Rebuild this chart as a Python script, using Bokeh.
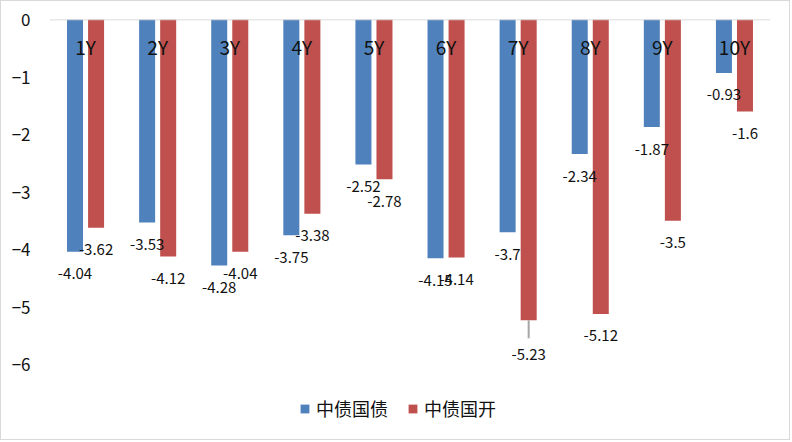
from bokeh.plotting import figure
from bokeh.models import ColumnDataSource, Span, Legend, LegendItem, FixedTicker
from bokeh.transform import dodge
from bokeh.core.properties import value
from bokeh.embed import file_html
from bokeh.resources import INLINE

# ---- data ----
categories = ["1Y", "2Y", "3Y", "4Y", "5Y", "6Y", "7Y", "8Y", "9Y", "10Y"]
govt_bond = [-4.04, -3.53, -4.28, -3.75, -2.52, -4.15, -3.7, -2.34, -1.87, -0.93]
cdb_bond = [-3.62, -4.12, -4.04, -3.38, -2.78, -4.14, -5.23, -5.12, -3.5, -1.6]
series_names = ["中债国债", "中债国开"]
y_ticks = [0, -1, -2, -3, -4, -5, -6]
y_axis_min = -6

# ---- style / layout ----
FONT = "Noto Sans CJK SC"
BLUE = "#4F81BD"
RED = "#C0504D"
TEXT = "#111111"
W, H = 790, 440
BL, BR, BT = 48, 21, 18
AXIS_H = 345                      # pixel height of the 0..-6 span
PPU = AXIS_H / abs(y_axis_min)    # pixels per unit
FRAME_H = H - BT - 10             # frame extends under the legend
y_frame_min = -FRAME_H / PPU
BAR_W = 0.222
OFF = 0.146
LABEL_DY = 22
# extra pixel offsets of the data labels (label moved with leader line)
govt_extra = [0, 0, 0, 0, 0, 0, 0, 0, 0, 0]
cdb_extra = [0, 0, 0, 0, 0, 0, 12, 0, 0, 0]

src = ColumnDataSource(dict(
    cat=categories,
    govt=govt_bond,
    cdb=cdb_bond,
    govt_lbl=[str(v) for v in govt_bond],
    cdb_lbl=[str(v) for v in cdb_bond],
    govt_dy=[LABEL_DY + e for e in govt_extra],
    cdb_dy=[LABEL_DY + e for e in cdb_extra],
    zero=[0] * len(categories),
))

p = figure(x_range=categories, y_range=(y_frame_min, 0), width=W, height=H,
           output_backend="svg", toolbar_location=None,
           min_border_left=BL, min_border_right=BR,
           min_border_top=BT, min_border_bottom=10)
p.styles = {"border": "1px solid #d9d9d9"}

p.xaxis.visible = False
p.xgrid.visible = False
p.ygrid.visible = False
p.outline_line_color = None
p.background_fill_color = "white"
p.border_fill_color = "white"

ya = p.yaxis[0]
ya.ticker = FixedTicker(ticks=y_ticks)
ya.axis_line_color = None
ya.major_tick_line_color = None
ya.minor_tick_line_color = None
ya.major_tick_out = 0
ya.major_label_standoff = 19
ya.major_label_text_font = FONT
ya.major_label_text_font_size = "17px"
ya.major_label_text_color = TEXT

r_g = p.vbar(x=dodge("cat", -OFF, range=p.x_range), top="govt", bottom=0,
             width=BAR_W, source=src, fill_color=BLUE, line_color=None)
r_c = p.vbar(x=dodge("cat", OFF, range=p.x_range), top="cdb", bottom=0,
             width=BAR_W, source=src, fill_color=RED, line_color=None)

p.add_layout(Span(location=0, dimension="width", line_color="#d0d0d0",
                  line_width=1.5))

# category labels just below the zero line
p.text(x="cat", y="zero", text="cat", source=src, y_offset=27,
       text_align="center", text_baseline="middle",
       text_font=value(FONT), text_font_size="19px", text_color=TEXT)

# data labels
p.text(x=dodge("cat", -OFF, range=p.x_range), y="govt", text="govt_lbl",
       source=src, y_offset="govt_dy", text_align="center",
       text_baseline="middle", text_font=value(FONT),
       text_font_size="15px", text_color=TEXT)
p.text(x=dodge("cat", OFF, range=p.x_range), y="cdb", text="cdb_lbl",
       source=src, y_offset="cdb_dy", text_align="center",
       text_baseline="middle", text_font=value(FONT),
       text_font_size="15px", text_color=TEXT)

# leader lines for moved labels
lead_cat = [c for c, e in zip(categories, cdb_extra) if e > 0]
lead_y0 = [v for v, e in zip(cdb_bond, cdb_extra) if e > 0]
lead_y1 = [v - (LABEL_DY + e - 16) / PPU for v, e in zip(cdb_bond, cdb_extra) if e > 0]
lsrc = ColumnDataSource(dict(cat=lead_cat, y0=lead_y0, y1=lead_y1))
p.segment(x0=dodge("cat", OFF, range=p.x_range), y0="y0",
          x1=dodge("cat", OFF, range=p.x_range), y1="y1",
          source=lsrc, line_color="#a6a6a6", line_width=2)

legend = Legend(items=[LegendItem(label=series_names[0], renderers=[r_g]),
                       LegendItem(label=series_names[1], renderers=[r_c])],
                orientation="horizontal", location=(250, 10),
                label_text_font=FONT, label_text_font_size="18px",
                label_text_color=TEXT, glyph_width=11, glyph_height=11,
                label_standoff=6, spacing=19, padding=0, margin=0,
                border_line_color=None, background_fill_alpha=0)
p.add_layout(legend)

open("out.html", "w").write(file_html(p, INLINE))
